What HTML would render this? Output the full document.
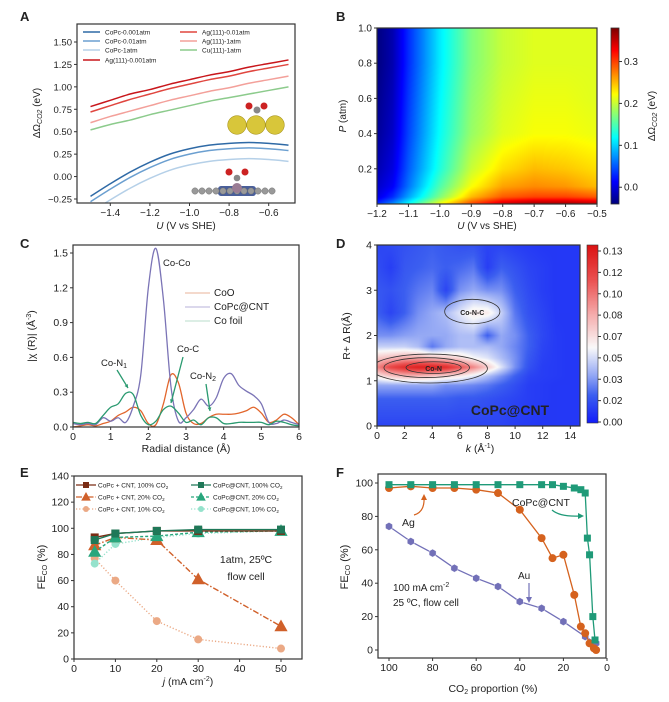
<!DOCTYPE html>
<html><head><meta charset="utf-8"><style>
html,body{margin:0;padding:0;background:#fff;}
#wrap{position:relative;width:669px;height:702px;overflow:hidden;font-family:"Liberation Sans",sans-serif;}
canvas{position:absolute;}
svg{position:absolute;left:0;top:0;}
text{font-family:"Liberation Sans",sans-serif;fill:#222;}
</style></head><body>
<div id="wrap">
<canvas id="cvB"></canvas>
<canvas id="cvD"></canvas>
<canvas id="cbB"></canvas>
<canvas id="cbD"></canvas>
<svg id="svg" width="669" height="702"></svg>
</div>
<script>
// ---------- Panel A data ----------
const aU=[-1.5,-1.4,-1.3,-1.2,-1.1,-1.0,-0.9,-0.8,-0.7,-0.6,-0.5];
const aCoPc001=[-0.22,-0.08,0.05,0.16,0.25,0.31,0.35,0.37,0.38,0.37,0.35];
const aCoPc01=[-0.28,-0.14,-0.01,0.10,0.19,0.25,0.29,0.31,0.32,0.31,0.29];
const aCoPc1=[-0.40,-0.26,-0.13,-0.02,0.07,0.13,0.17,0.19,0.20,0.19,0.17];
const aAg001=[0.78,0.85,0.92,0.97,1.03,1.08,1.13,1.17,1.22,1.26,1.30];
const aAg01=[0.72,0.79,0.86,0.92,0.98,1.03,1.08,1.12,1.17,1.21,1.25];
const aAg1=[0.60,0.67,0.73,0.79,0.85,0.90,0.95,0.99,1.04,1.08,1.12];
const aCu1=[0.52,0.58,0.63,0.69,0.74,0.79,0.84,0.88,0.92,0.96,1.00];
const aXTicks=[-1.4,-1.2,-1.0,-0.8,-0.6];
const aYTicks=[-0.25,0,0.25,0.5,0.75,1.0,1.25,1.5];
// ---------- Panel B data ----------
const bU=[-1.2,-1.15,-1.1,-1.0,-0.9,-0.8,-0.7,-0.6,-0.5];
const bP=[1.0,0.8,0.6,0.4,0.2,0.1,0.04,0.0];
const bVals=[
[-0.04,-0.02,0.03,0.11,0.17,0.20,0.21,0.21,0.21],
[-0.04,-0.02,0.03,0.11,0.17,0.20,0.21,0.21,0.21],
[-0.035,-0.015,0.035,0.115,0.175,0.205,0.215,0.215,0.21],
[-0.03,-0.01,0.04,0.12,0.18,0.21,0.22,0.22,0.215],
[-0.02,0.0,0.05,0.13,0.20,0.235,0.25,0.245,0.235],
[-0.01,0.01,0.06,0.15,0.22,0.26,0.27,0.265,0.25],
[0.0,0.03,0.08,0.17,0.25,0.29,0.30,0.30,0.29],
[0.03,0.07,0.12,0.22,0.30,0.35,0.37,0.37,0.36]];
const bXTicks=[-1.2,-1.1,-1.0,-0.9,-0.8,-0.7,-0.6,-0.5];
const bYTicks=[0.2,0.4,0.6,0.8,1.0];
const bCTicks=[0.0,0.1,0.2,0.3];
// ---------- Panel C data ----------
const cR=[0,0.2,0.4,0.6,0.8,1.0,1.2,1.4,1.6,1.8,2.0,2.2,2.4,2.6,2.8,3.0,3.2,3.4,3.6,3.8,4.0,4.2,4.4,4.6,4.8,5.0,5.2,5.4,5.6,5.8,6.0];
const cFoil=[0.03,0.02,0.03,0.02,0.08,0.05,0.08,0.04,0.18,0.45,1.2,1.54,1.1,0.35,0.05,0.08,0.15,0.24,0.18,0.25,0.42,0.46,0.36,0.31,0.27,0.2,0.04,0.03,0.06,0.04,0.02];
const cCoO=[0.0,0.01,0.02,0.01,0.03,0.05,0.1,0.13,0.17,0.14,0.03,0.02,0.2,0.45,0.38,0.12,0.03,0.03,0.08,0.11,0.11,0.11,0.12,0.14,0.17,0.12,0.04,0.06,0.11,0.08,0.02];
const cCNT=[0.04,0.03,0.04,0.03,0.1,0.17,0.2,0.29,0.28,0.1,0.02,0.05,0.15,0.18,0.12,0.04,0.06,0.02,0.08,0.08,0.03,0.03,0.04,0.04,0.04,0.04,0.02,0.05,0.04,0.02,0.01];
const cXTicks=[0,1,2,3,4,5,6];
const cYTicks=[0,0.3,0.6,0.9,1.2,1.5];
// ---------- Panel D data ----------
const dK=[0,1,2,3,4,5,6,7,8,9,10,11,12,13,14,15];
const dR=[4,3.5,3,2.5,2,1.75,1.5,1.3,1.1,0.9,0.6,0];
const dVals=[
[.012,.014,.016,.018,.02,.018,.016,.016,.012,.012,.01,.009,.008,.008,.008,.008],
[.015,.01,.018,.02,.022,.02,.022,.025,.01,.02,.016,.012,.01,.008,.008,.008],
[.018,.016,.02,.025,.028,.012,.03,.035,.03,.03,.02,.014,.01,.008,.008,.008],
[.02,.012,.02,.03,.035,.04,.05,.06,.06,.045,.025,.016,.012,.008,.008,.008],
[.03,.03,.033,.035,.035,.035,.04,.04,.02,.035,.03,.02,.013,.009,.008,.008],
[.045,.045,.045,.04,.025,.035,.04,.04,.04,.035,.028,.02,.012,.009,.008,.008],
[.07,.075,.08,.08,.075,.07,.065,.055,.05,.04,.03,.018,.011,.009,.008,.008],
[.09,.11,.12,.125,.125,.12,.105,.09,.07,.05,.03,.016,.01,.009,.008,.008],
[.06,.07,.075,.075,.07,.065,.06,.05,.04,.03,.02,.012,.01,.009,.008,.008],
[.035,.035,.035,.035,.035,.03,.03,.028,.025,.02,.015,.01,.009,.008,.008,.008],
[.02,.02,.02,.02,.02,.02,.018,.018,.016,.014,.012,.01,.009,.008,.008,.008],
[.012,.012,.012,.012,.012,.012,.012,.012,.012,.012,.01,.009,.008,.008,.008,.008]];
const dXTicks=[0,2,4,6,8,10,12,14];
const dYTicks=[0,1,2,3,4];
const dCLabels=["0.13","0.12","0.10","0.08","0.07","0.05","0.03","0.02","0.00"];
// ---------- Panel E data ----------
const eJ=[5,10,20,30,50];
const eMix100=[93,96,98,98,98];
const eAt100=[91,96,98,99,99];
const eMix20=[87,93,91,61,25];
const eAt20=[82,93,94,97,98];
const eMix10=[77,60,29,15,8];
const eAt10=[73,88,93,96,98];
const eXTicks=[0,10,20,30,40,50];
const eYTicks=[0,20,40,60,80,100,120,140];
// ---------- Panel F data ----------
const fCntX=[100,90,80,70,60,50,40,30,25,20,15,12,10,9,8,6.5,5.5];
const fCntY=[99,99,99,99,99,99,99,99,99,98,97,96,94,67,57,20,6];
const fAgX=[100,90,80,70,60,50,40,30,25,20,15,12,10,8,6,5];
const fAgY=[97,98,97,97,96,94,84,67,55,57,33,14,10,4,1,0];
const fAuX=[100,90,80,70,60,50,40,30,20,10,5];
const fAuY=[74,65,58,49,43,38,29,25,17,8,4];
const fXTicks=[100,80,60,40,20,0];
const fYTicks=[0,20,40,60,80,100];

const NS="http://www.w3.org/2000/svg";
const svg=document.getElementById('svg');
function mk(tag,attrs,name,parent){
  const e=document.createElementNS(NS,tag);
  for(const k in attrs)e.setAttribute(k,attrs[k]);
  
  
  (parent||svg).appendChild(e);return e;
}
function txt(x,y,s,name,opt){
  opt=opt||{};
  const t=mk('text',{x:x,y:y,'font-size':opt.fs||10,'text-anchor':opt.anchor||'middle',fill:opt.fill||'#222','font-weight':opt.fw||'normal'},name);
  if(opt.rot!==undefined)t.setAttribute('transform','rotate('+opt.rot+' '+x+' '+y+')');
  t.innerHTML=s;return t;
}
function lin(d0,d1,r0,r1){return v=>r0+(v-d0)*(r1-r0)/(d1-d0);}
function box(x0,y0,x1,y1,name){mk('rect',{x:x0,y:y0,width:x1-x0,height:y1-y0,fill:'none',stroke:'#333','stroke-width':1.2},name);}
function xticks(ticks,sx,y,name,fmt,fs){ticks.forEach(v=>{const x=sx(v);mk('line',{x1:x,x2:x,y1:y,y2:y+3,stroke:'#333'},name+'-tick');txt(x,y+13,fmt(v),name+'-label',{fs:fs||10});});}
function yticks(ticks,sy,x,name,fmt,fs){ticks.forEach(v=>{const y=sy(v);mk('line',{x1:x-3,x2:x,y1:y,y2:y,stroke:'#333'},name+'-tick');txt(x-5,y+3.5,fmt(v),name+'-label',{fs:fs||10,anchor:'end'});});}
function poly(xs,ys,sx,sy,style,name){
  const pts=xs.map((x,i)=>sx(x).toFixed(1)+','+sy(ys[i]).toFixed(1)).join(' ');
  const a={points:pts,fill:'none'};for(const k in style)a[k]=style[k];return mk('polyline',a,name);}
function smooth(xs,ys,sx,sy,style,name){
  const P=xs.map((x,i)=>[sx(x),sy(ys[i])]);let d='M'+P[0][0]+','+P[0][1];
  for(let i=0;i<P.length-1;i++){const p0=P[i-1]||P[i],p1=P[i],p2=P[i+1],p3=P[i+2]||P[i+1];
    d+=' C'+(p1[0]+(p2[0]-p0[0])/6)+','+(p1[1]+(p2[1]-p0[1])/6)+' '+(p2[0]-(p3[0]-p1[0])/6)+','+(p2[1]-(p3[1]-p1[1])/6)+' '+p2[0]+','+p2[1];}
  const a={d:d,fill:'none'};for(const k in style)a[k]=style[k];return mk('path',a,name);}
const mfmt=v=>(v<0?'\u2212':'')+Math.abs(v).toFixed(1);

// ================= Panel A =================
{
const sx=lin(-1.5,-0.5,90.5,288.5), sy=lin(-0.25,1.5,199,42);
const cp=mk('clipPath',{id:'clipA'},'clip-a');mk('rect',{x:77,y:24,width:218,height:179},'clip-a-rect',cp);
const g=mk('g',{'clip-path':'url(#clipA)'},'plot-a');
const ser=[[aCoPc001,'#2f6aa6','copc-0.001atm'],[aCoPc01,'#6b9fd0','copc-0.01atm'],[aCoPc1,'#b5d0e8','copc-1atm'],[aAg001,'#c8161b','ag111-0.001atm'],[aAg01,'#e0463f','ag111-0.01atm'],[aAg1,'#f3a09a','ag111-1atm'],[aCu1,'#8ccb8c','cu111-1atm']];
ser.forEach(s=>{const p=smooth(aU,s[0],sx,sy,{stroke:s[1],'stroke-width':1.5},'line-'+s[2]);g.appendChild(p);});
box(77,24,295,203,'axes-a');
xticks(aXTicks,sx,203,'x-tick-a',mfmt,10);
yticks(aYTicks,sy,77,'y-tick-a',v=>(v<0?'\u2212':'')+Math.abs(v).toFixed(2),9.5);
txt(186,229,'<tspan font-style="italic">U</tspan> (V vs SHE)','x-axis-title-a',{fs:10});
txt(40,113,'ΔΩ<tspan font-size="7" dy="2" font-style="italic">CO2</tspan><tspan dy="-2"> (eV)</tspan>','y-axis-title-a',{fs:10,rot:-90});
txt(20,21,'A','panel-label-a',{fs:13,fw:'bold',anchor:'start'});
const leg=[[83,32,ser[0]],[83,41,ser[1]],[83,50,ser[2]],[83,60,ser[3]],[180,32,ser[4]],[180,41,ser[5]],[180,50,ser[6]]];
const legNames=['CoPc-0.001atm','CoPc-0.01atm','CoPc-1atm','Ag(111)-0.001atm','Ag(111)-0.01atm','Ag(111)-1atm','Cu(111)-1atm'];
leg.forEach((l,i)=>{mk('line',{x1:l[0],x2:l[0]+17,y1:l[1],y2:l[1],stroke:l[2][1],'stroke-width':1.5},'legend-swatch-a');txt(l[0]+22,l[1]+2.5,legNames[i],'legend-entry-a',{fs:6.5,anchor:'start'});});
[237,256,275].forEach(x=>mk('circle',{cx:x,cy:125,r:9.3,fill:'#d8c63a',stroke:'#a89520','stroke-width':0.6},'ag-atom'));
mk('circle',{cx:257,cy:110,r:3.5,fill:'#888'},'c-atom');
mk('circle',{cx:249,cy:106,r:3.5,fill:'#cc2222'},'o-atom');mk('circle',{cx:264,cy:106,r:3.5,fill:'#cc2222'},'o-atom');
mk('rect',{x:218,y:186,width:38,height:10,fill:'#4a5f9a',rx:3},'copc-core');
for(let x=195;x<=277;x+=7){mk('circle',{cx:x,cy:191,r:3.2,fill:'#999',stroke:'#666','stroke-width':0.4},'copc-atom');}
mk('circle',{cx:237,cy:188,r:5,fill:'#9a7c94'},'co-atom');
mk('circle',{cx:237,cy:178,r:3.3,fill:'#888'},'c-atom');
mk('circle',{cx:229,cy:172,r:3.5,fill:'#cc2222'},'o-atom');mk('circle',{cx:245,cy:172,r:3.5,fill:'#cc2222'},'o-atom');
}
// ================= Panel B =================
function jet(t){t=Math.max(0,Math.min(1,t));const r=Math.min(1,Math.max(0,1.5-Math.abs(4*t-3))),g=Math.min(1,Math.max(0,1.5-Math.abs(4*t-2))),b=Math.min(1,Math.max(0,1.5-Math.abs(4*t-1)));return [r*255|0,g*255|0,b*255|0];}
function interpGrid(xs,ys,vals,x,y){
  let i=0;while(i<xs.length-2&&x>xs[i+1])i++;let j=0;
  const asc=ys[1]>ys[0];
  while(j<ys.length-2&&(asc?y>ys[j+1]:y<ys[j+1]))j++;
  const tx=Math.max(0,Math.min(1,(x-xs[i])/(xs[i+1]-xs[i]))),ty=Math.max(0,Math.min(1,(y-ys[j])/(ys[j+1]-ys[j])));
  const a=vals[j][i],b=vals[j][i+1],c=vals[j+1][i],d=vals[j+1][i+1];
  return (a*(1-tx)+b*tx)*(1-ty)+(c*(1-tx)+d*tx)*ty;}
{
const X0=377,Y0=28,W=220,H=176;
const cv=document.getElementById('cvB');cv.width=W;cv.height=H;cv.style.left=X0+'px';cv.style.top=Y0+'px';
const ctx=cv.getContext('2d');const im=ctx.createImageData(W,H);
const ux=lin(0,W,-1.2,-0.5),py=lin(0,H,1.0,0.0);
for(let yy=0;yy<H;yy++)for(let xx=0;xx<W;xx++){const v=interpGrid(bU,bP,bVals,ux(xx+0.5),py(yy+0.5));const c=jet((v+0.04)/0.42);const k=(yy*W+xx)*4;im.data[k]=c[0];im.data[k+1]=c[1];im.data[k+2]=c[2];im.data[k+3]=255;}
ctx.putImageData(im,0,0);
const cb=document.getElementById('cbB');cb.width=8;cb.height=176;cb.style.left='611px';cb.style.top='28px';
const c2=cb.getContext('2d');for(let yy=0;yy<176;yy++){const c=jet(1-yy/175);c2.fillStyle='rgb('+c+')';c2.fillRect(0,yy,8,1);}
const sx=lin(-1.2,-0.5,377,597),sy=lin(0,1,204,28),sc=lin(-0.04,0.38,204,28);
box(377,28,597,204,'axes-b');
mk('rect',{x:611,y:28,width:8,height:176,fill:'none',stroke:'#333','stroke-width':0.8},'colorbar-frame-b');
xticks(bXTicks,sx,204,'x-tick-b',mfmt,10);
yticks(bYTicks,sy,377,'y-tick-b',v=>v.toFixed(1),10);
bCTicks.forEach(v=>{const y=sc(v);mk('line',{x1:619,x2:622,y1:y,y2:y,stroke:'#333'},'colorbar-tick-b');txt(624,y+3.5,v.toFixed(1),'colorbar-label-b',{fs:10,anchor:'start'});});
txt(487,229,'<tspan font-style="italic">U</tspan> (V vs SHE)','x-axis-title-b',{fs:10});
txt(346,116,'<tspan font-style="italic">P</tspan> (atm)','y-axis-title-b',{fs:10,rot:-90});
txt(655,116,'ΔΩ<tspan font-size="7" dy="2" font-style="italic">CO2</tspan><tspan dy="-2"> (eV)</tspan>','colorbar-title-b',{fs:10,rot:-90});
txt(336,21,'B','panel-label-b',{fs:13,fw:'bold',anchor:'start'});
}
// ================= Panel C =================
{
const sx=lin(0,6,73,299),sy=lin(0,1.5,427,253);
smooth(cR,cCoO,sx,sy,{stroke:'#e2662c','stroke-width':1.3},'line-coo');
smooth(cR,cFoil,sx,sy,{stroke:'#7b74b6','stroke-width':1.3},'line-co-foil');
smooth(cR,cCNT,sx,sy,{stroke:'#2a9a70','stroke-width':1.3},'line-copc-cnt');
box(73,245,299,427,'axes-c');
xticks(cXTicks,sx,427,'x-tick-c',v=>String(v),10.5);
yticks(cYTicks,sy,73,'y-tick-c',v=>v.toFixed(1),10.5);
txt(186,452,'Radial distance (Å)','x-axis-title-c',{fs:10.5});
txt(35,336,'|χ (R)| (Å<tspan font-size="7" dy="-4">-3</tspan><tspan dy="4">)</tspan>','y-axis-title-c',{fs:10.5,rot:-90});
txt(20,248,'C','panel-label-c',{fs:13,fw:'bold',anchor:'start'});
const lg=[['CoO','#e9b39a',296],['CoPc@CNT','#b7b2d8',310],['Co foil','#b8dccb',324]];
lg.forEach(l=>{mk('line',{x1:185,x2:210,y1:l[2]-3,y2:l[2]-3,stroke:l[1],'stroke-width':1},'legend-swatch-c');txt(214,l[2],l[0],'legend-entry-c',{fs:10,anchor:'start'});});
txt(163,266,'Co-Co','annotation-co-co',{fs:9.5,fill:'#7b74b6',anchor:'start'});
txt(101,366,'Co-N<tspan font-size="7" dy="2">1</tspan>','annotation-co-n1',{fs:9.5,fill:'#2a9a70',anchor:'start'});
txt(177,352,'Co-C','annotation-co-c',{fs:9.5,fill:'#2a9a70',anchor:'start'});
txt(190,379,'Co-N<tspan font-size="7" dy="2">2</tspan>','annotation-co-n2',{fs:9.5,fill:'#2a9a70',anchor:'start'});
[[117,370,128,388],[183,357,171,403],[206,384,210,411]].forEach(a=>{mk('line',{x1:a[0],y1:a[1],x2:a[2],y2:a[3],stroke:'#2a9a70','stroke-width':1.3},'annotation-arrow-c');
 const ang=Math.atan2(a[3]-a[1],a[2]-a[0]);const s=4;mk('polygon',{points:a[2]+','+a[3]+' '+(a[2]-s*Math.cos(ang-0.5))+','+(a[3]-s*Math.sin(ang-0.5))+' '+(a[2]-s*Math.cos(ang+0.5))+','+(a[3]-s*Math.sin(ang+0.5)),fill:'#2a9a70'},'annotation-arrowhead-c');});
}
// ================= Panel D =================
function bwr(v){const st=[[0,[20,30,250]],[0.02,[60,95,240]],[0.035,[150,170,245]],[0.055,[250,250,250]],[0.08,[245,170,170]],[0.105,[235,80,80]],[0.13,[220,20,20]]];
 if(v<=st[0][0])return st[0][1];for(let i=0;i<st.length-1;i++){if(v<=st[i+1][0]){const t=(v-st[i][0])/(st[i+1][0]-st[i][0]);return st[i][1].map((c,k)=>c+(st[i+1][1][k]-c)*t|0);}}return st[st.length-1][1];}
{
const X0=377,Y0=245,W=203,H=181;
const cv=document.getElementById('cvD');cv.width=W;cv.height=H;cv.style.left=X0+'px';cv.style.top=Y0+'px';
const ctx=cv.getContext('2d');const im=ctx.createImageData(W,H);
const kx=lin(0,W,0,14.7),ry=lin(0,H,4,0);
for(let yy=0;yy<H;yy++)for(let xx=0;xx<W;xx++){const v=interpGrid(dK,dR,dVals,kx(xx+0.5),ry(yy+0.5));const c=bwr(v);const k=(yy*W+xx)*4;im.data[k]=c[0];im.data[k+1]=c[1];im.data[k+2]=c[2];im.data[k+3]=255;}
ctx.putImageData(im,0,0);
const cb=document.getElementById('cbD');cb.width=11;cb.height=178;cb.style.left='587px';cb.style.top='245px';
const c2=cb.getContext('2d');for(let yy=0;yy<178;yy++){const c=bwr(0.13*(1-yy/177));c2.fillStyle='rgb('+c+')';c2.fillRect(0,yy,11,1);}
const sx=lin(0,14.7,377,580),sy=lin(0,4,426,245);
const cpd=mk('clipPath',{id:'clipD'},'clip-d');mk('rect',{x:377,y:245,width:203,height:181},'clip-d-rect',cpd);
const gd=mk('g',{'clip-path':'url(#clipD)'},'contours-d');
[[4.1,1.29,2.0,0.13],[3.6,1.29,3.1,0.22],[3.8,1.27,4.2,0.32],[6.9,2.53,2.0,0.27]].forEach(e=>mk('ellipse',{cx:sx(e[0]),cy:sy(e[1]),rx:e[2]*13.8,ry:e[3]*45.25,fill:'none',stroke:'#333','stroke-width':0.8},'contour-d',gd));
txt(sx(4.1),sy(1.22),'Co-N','annotation-co-n',{fs:7,fw:'bold'});
txt(sx(6.9),sy(2.45),'Co-N-C','annotation-co-n-c',{fs:7,fw:'bold'});
txt(510,415,'CoPc@CNT','inset-label-d',{fs:14,fw:'bold',fill:'#fff'});
box(377,245,580,426,'axes-d');
mk('rect',{x:587,y:245,width:11,height:178,fill:'none',stroke:'#333','stroke-width':0.6},'colorbar-frame-d');
xticks(dXTicks,sx,426,'x-tick-d',v=>String(v),10.5);
yticks(dYTicks,sy,377,'y-tick-d',v=>String(v),10.5);
dCLabels.forEach((s,i)=>{const y=245+6+i*(426-245-10)/8;mk('line',{x1:598,x2:601,y1:y,y2:y,stroke:'#333'},'colorbar-tick-d');txt(603,y+3.5,s,'colorbar-label-d',{fs:10,anchor:'start'});});
txt(480,452,'<tspan font-style="italic">k</tspan> (Å<tspan font-size="7" dy="-4">-1</tspan><tspan dy="4">)</tspan>','x-axis-title-d',{fs:10.5});
txt(350,336,'R+ Δ R(Å)','y-axis-title-d',{fs:10.5,rot:-90});
txt(336,248,'D','panel-label-d',{fs:13,fw:'bold',anchor:'start'});
}
// ================= Panel E =================
function marker(type,x,y,s,fill,name){
  if(type==='sq')return mk('rect',{x:x-s/2,y:y-s/2,width:s,height:s,fill:fill},name);
  if(type==='tri')return mk('polygon',{points:x+','+(y-s*0.62)+' '+(x-s*0.6)+','+(y+s*0.45)+' '+(x+s*0.6)+','+(y+s*0.45),fill:fill},name);
  if(type==='hex'){let p=[];for(let i=0;i<6;i++){const a=Math.PI/6+i*Math.PI/3;p.push((x+s/2*Math.cos(a)).toFixed(1)+','+(y+s/2*Math.sin(a)).toFixed(1));}return mk('polygon',{points:p.join(' '),fill:fill,stroke:'#fff','stroke-width':0.4},name);}
  return mk('circle',{cx:x,cy:y,r:s/2,fill:fill},name);}
{
const sx=lin(0,50,74,281),sy=lin(0,140,659,476);
const E=[[eMix10,'#eba985','circle','1.2,2','copc-cnt-10'],[eAt10,'#95e2cc','circle','1.2,2','copc-at-cnt-10'],[eMix20,'#d0602a','tri','6,2,1.5,2','copc-cnt-20'],[eAt20,'#28a67c','tri','3,2','copc-at-cnt-20'],[eMix100,'#7a2c14','sq','','copc-cnt-100'],[eAt100,'#1f7858','sq','','copc-at-cnt-100']];
E.forEach(s=>{const st={stroke:s[1],'stroke-width':1.4};if(s[3])st['stroke-dasharray']=s[3];poly(eJ,s[0],sx,sy,st,'line-'+s[4]);
  eJ.forEach((x,i)=>marker(s[2],sx(x),sy(s[0][i]),s[2]==='tri'?11:8,s[1],'marker-'+s[4]));});
box(74,476,302,659,'axes-e');
xticks(eXTicks,sx,659,'x-tick-e',v=>String(v),10.5);
yticks(eYTicks,sy,74,'y-tick-e',v=>String(v),10.5);
txt(188,685,'<tspan font-style="italic">j</tspan> (mA cm<tspan font-size="7" dy="-4">-2</tspan><tspan dy="4">)</tspan>','x-axis-title-e',{fs:10.5});
txt(45,567,'FE<tspan font-size="7" dy="2">CO</tspan><tspan dy="-2"> (%)</tspan>','y-axis-title-e',{fs:11,rot:-90});
txt(20,477,'E','panel-label-e',{fs:13,fw:'bold',anchor:'start'});
txt(246,563,'1atm, 25ºC','annotation-conditions-e',{fs:10.5});
txt(246,580,'flow cell','annotation-flow-cell-e',{fs:10.5});
const L=[[76,485,E[4],'CoPc + CNT, 100% CO'],[191,485,E[5],'CoPc@CNT, 100% CO'],[76,497,E[2],'CoPc + CNT, 20% CO'],[191,497,E[3],'CoPc@CNT, 20% CO'],[76,509,E[0],'CoPc + CNT, 10% CO'],[191,509,E[1],'CoPc@CNT, 10% CO']];
L.forEach(l=>{const st={stroke:l[2][1],'stroke-width':1.3};if(l[2][3])st['stroke-dasharray']=l[2][3];mk('line',Object.assign({x1:l[0],x2:l[0]+20,y1:l[1],y2:l[1]},st),'legend-swatch-e');
 marker(l[2][2],l[0]+10,l[1],l[2][2]==='tri'?8:6,l[2][1],'legend-marker-e');
 txt(l[0]+22,l[1]+2.5,l[3]+'<tspan font-size="4.5" dy="1.5">2</tspan>','legend-entry-e',{fs:6.5,anchor:'start'});});
}
// ================= Panel F =================
{
const sx=lin(100,0,389,607),sy=lin(0,100,650,483);
const F=[[fAuX,fAuY,'#7270b8','hex','au'],[fAgX,fAgY,'#d5621e','circle','ag'],[fCntX,fCntY,'#1f9a78','sq','copc-at-cnt']];
F.forEach(s=>{poly(s[0],s[1],sx,sy,{stroke:s[2],'stroke-width':1.3},'line-'+s[4]);s[0].forEach((x,i)=>marker(s[3],sx(x),sy(s[1][i]),s[3]==='sq'?7:8,s[2],'marker-'+s[4]));});
mk('rect',{x:378,y:474,width:228,height:184,fill:'none',stroke:'#333','stroke-width':1.2},'axes-f');
xticks(fXTicks,sx,658,'x-tick-f',v=>String(v),10.5);
yticks(fYTicks,sy,378,'y-tick-f',v=>String(v),10.5);
txt(493,692,'CO<tspan font-size="7" dy="2">2</tspan><tspan dy="-2"> proportion (%)</tspan>','x-axis-title-f',{fs:10.5});
txt(348,567,'FE<tspan font-size="7" dy="2">CO</tspan><tspan dy="-2"> (%)</tspan>','y-axis-title-f',{fs:11,rot:-90});
txt(336,477,'F','panel-label-f',{fs:13,fw:'bold',anchor:'start'});
txt(393,591,'100 mA cm<tspan font-size="7" dy="-4">-2</tspan>','annotation-current-f',{fs:10,anchor:'start'});
txt(393,606,'25 ºC, flow cell','annotation-conditions-f',{fs:10,anchor:'start'});
txt(402,526,'Ag','annotation-ag',{fs:10.5,fill:'#d5621e',anchor:'start'});
txt(518,579,'Au','annotation-au',{fs:10,fill:'#7270b8',anchor:'start'});
txt(512,506,'CoPc@CNT','annotation-copc-cnt',{fs:10.5,fill:'#1f9a78',anchor:'start'});
mk('path',{d:'M414,515 Q425,512 424,497',fill:'none',stroke:'#d5621e','stroke-width':1.2},'arrow-ag');
mk('polygon',{points:'424,494 421,500 427,500',fill:'#d5621e'},'arrowhead-ag');
mk('line',{x1:529,y1:583,x2:529,y2:600,stroke:'#7270b8','stroke-width':1.2},'arrow-au');
mk('polygon',{points:'529,603 526,597 532,597',fill:'#7270b8'},'arrowhead-au');
mk('path',{d:'M552,510 Q560,517 580,516',fill:'none',stroke:'#1f9a78','stroke-width':1.2},'arrow-copc');
mk('polygon',{points:'584,516 578,513 578,519',fill:'#1f9a78'},'arrowhead-copc');
}
</script>
</body></html>
